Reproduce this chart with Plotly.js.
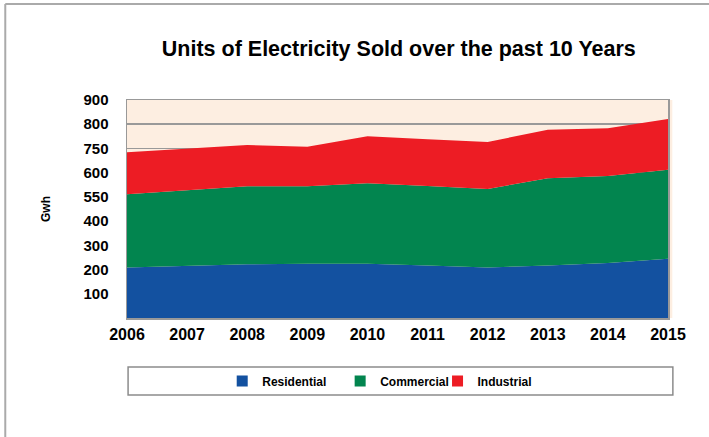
<!DOCTYPE html>
<html>
<head>
<meta charset="utf-8">
<script src="https://cdn.plot.ly/plotly-3.0.1.min.js"></script>
<style>html,body{margin:0;padding:0;background:#fff;}#chart{width:709px;height:437px;}</style>
</head>
<body>
<div id="chart"></div>
<script>
var years = [2006, 2007, 2008, 2009, 2010, 2011, 2012, 2013, 2014, 2015];
var residential = [209, 216, 222, 224, 224, 217, 209, 217, 227, 245];
var commercial  = [302, 311, 322, 320, 332, 328, 324, 360, 359, 367];
var industrial  = [173, 172, 170, 163, 194, 193, 194, 200, 197, 210];
var yTickVals = [100, 200, 300, 400, 500, 600, 700, 800, 900];
var yTickText = ['100', '200', '300', '400', '550', '600', '750', '800', '900'];
var seriesNames = ['Residential', 'Commercial', 'Industrial'];
var colors = ['#1351A0', '#02854F', '#ED1C24'];
var seriesData = [residential, commercial, industrial];
var legendIds = ['legend', 'legend2', 'legend3'];
var legendX = [0.176, 0.394, 0.574];

var FONT = 'Liberation Sans, Arial, sans-serif';
var traces = [];
seriesData.forEach(function (vals, i) {
  traces.push({
    type: 'scatter', mode: 'lines', x: years, y: vals, name: seriesNames[i],
    stackgroup: 'one', line: {width: 0, color: colors[i]}, fillcolor: colors[i],
    showlegend: false, hoverinfo: 'x+y+name'
  });
});
seriesData.forEach(function (vals, i) {
  traces.push({
    type: 'scatter', mode: 'markers', x: [null], y: [null], name: '<b>' + seriesNames[i] + '</b>',
    marker: {symbol: 'square', size: 11, color: colors[i]}, showlegend: true, legend: legendIds[i]
  });
});

var layout = {
  width: 709, height: 437,
  margin: {l: 127, r: 41, t: 100, b: 119},
  paper_bgcolor: '#ffffff', plot_bgcolor: '#FDEEE1',
  title: {text: '<b>Units of Electricity Sold over the past 10 Years</b>',
          font: {family: FONT, size: 21.5, color: '#000'}, x: 0.5625, xanchor: 'center', y: 0.888, yanchor: 'middle'},
  xaxis: {range: [2006, 2015], tickvals: years, ticktext: years.map(function (y) { return '<b>' + y + '</b>'; }),
          tickfont: {family: FONT, size: 16, color: '#000'}, showgrid: false, zeroline: false,
          showline: true, linecolor: '#999', linewidth: 1.5, mirror: true, ticks: '', ticklabelstandoff: 1},
  yaxis: {range: [0, 900], tickvals: yTickVals, ticktext: yTickText.map(function (t) { return '<b>' + t + '</b>'; }),
          tickfont: {family: FONT, size: 15, color: '#000'}, showgrid: true, gridcolor: '#999', gridwidth: 1.5,
          zeroline: false, showline: true, linecolor: '#999', linewidth: 1.5, mirror: true, ticks: '',
          ticklabelstandoff: 14,
          title: {text: '<b>Gwh</b>', font: {family: FONT, size: 12, color: '#000'}, standoff: 30}},
  shapes: [
    {type: 'rect', xref: 'paper', yref: 'paper', x0: 1.0, x1: 1.008, y0: 0, y1: 1,
     line: {width: 0}, fillcolor: '#FDEEE1', layer: 'below'},
    {type: 'rect', xref: 'paper', yref: 'paper', x0: 0.002, x1: 1.009, y0: -0.2248, y1: -0.353,
     line: {color: '#8c8c8c', width: 1.5}, fillcolor: 'rgba(0,0,0,0)'},
    {type: 'line', xref: 'paper', yref: 'paper', x0: -0.225, x1: 1.08, y0: 1.44, y1: 1.44,
     line: {color: '#aaaaaa', width: 2}},
    {type: 'line', xref: 'paper', yref: 'paper', x0: -0.225, x1: -0.225, y0: 1.44, y1: -0.6,
     line: {color: '#aaaaaa', width: 2}}
  ],
  showlegend: true
};
legendIds.forEach(function (id, i) {
  layout[id] = {orientation: 'h', x: legendX[i], xanchor: 'left', y: -0.289, yanchor: 'middle',
                font: {family: FONT, size: 12, color: '#000'}, bgcolor: 'rgba(0,0,0,0)', itemwidth: 30};
});
Plotly.newPlot('chart', traces, layout, {displayModeBar: false, staticPlot: true});
</script>
</body>
</html>
